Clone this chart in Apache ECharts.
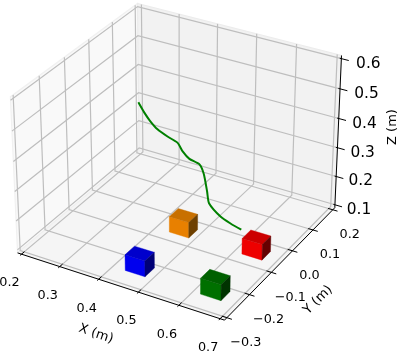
<!DOCTYPE html>
<html><head><meta charset="utf-8">
<style>html,body{margin:0;padding:0;background:#fff}#c{width:403px;height:356px}</style>
<script src="https://cdn.jsdelivr.net/npm/echarts@6/dist/echarts.min.js"></script>
</head><body><div id="c"></div>
<script>
const xTicks = [0.2, 0.3, 0.4, 0.5, 0.6, 0.7];
const yTicks = [-0.3, -0.2, -0.1, 0.0, 0.1, 0.2];
const zTicks = [0.1, 0.2, 0.3, 0.4, 0.5, 0.6];
const xLabels = ['0.2','0.3','0.4','0.5','0.6','0.7'];
const yLabels = ['\u22120.3','\u22120.2','\u22120.1','0.0','0.1','0.2'];
const zLabels = ['0.1','0.2','0.3','0.4','0.5','0.6'];
const pathX = [0.2839,0.2990,0.3146,0.3338,0.3600,0.3864,0.3995,0.4171,0.4433,0.4546,0.4635,0.4687,0.5101,0.5429,0.5765];
const pathY = [0.054,0.054,0.054,0.054,0.054,0.054,0.054,0.054,0.054,0.054,0.054,0.054,0.0346,0.0206,0.0095];
const pathZ = [0.3985,0.3693,0.3452,0.3238,0.3086,0.2965,0.2718,0.2528,0.2436,0.2144,0.1567,0.1175,0.10,0.10,0.10];
const cubeX = [0.645,0.644,0.457,0.461];
const cubeY = [-0.0475,-0.231,-0.2325,-0.049];
const cubeZ = [0.09,0.09,0.09,0.09];
const cubeColors = [
  ['#ee0000','#cc0000','#660000'],
  ['#007000','#006000','#003300'],
  ['#0000ee','#0000cc','#000077'],
  ['#e88000','#c87000','#6e4000']
];
const CUBE_DX = 0.025, CUBE_DY = 0.02, CUBE_DZ = 0.027;

// matplotlib limits with its 1/48 margin
const pad = 0.5 / 48;
const xmin = 0.2 - pad, xmax = 0.7 + pad, ymin = -0.3 - pad, ymax = 0.2 + pad, zmin = 0.1 - pad, zmax = 0.6 + pad;
// view camera elev 30, azim -60, dist 10, box aspect 4:4:3
const BX = 1.1428, BZ = 0.8571;
function project(x, y, z) {
  const dx = ((x - xmin) / (xmax - xmin) - 0.5) * BX;
  const dy = ((y - ymin) / (ymax - ymin) - 0.5) * BX;
  const dz = ((z - zmin) / (zmax - zmin) - 0.5) * BZ;
  const u = 0.8660254 * dx + 0.5 * dy;
  const v = -0.25 * dx + 0.4330127 * dy + 0.8660254 * dz;
  const w = 0.4330127 * dx - 0.75 * dy + 0.5 * dz;
  const d = 10 - w;
  return [u / d, v / d];
}
const SCALE = 2075, CX = 179, CY = 154.5;

const lineStyle = (c, w) => ({ stroke: c, lineWidth: w, fill: null });
function poly(api, pts, style) {
  return { type: 'polyline', shape: { points: pts.map(p => api.coord(project(p[0], p[1], p[2]))) }, style };
}
function polygon(api, pts, style) {
  return { type: 'polygon', shape: { points: pts.map(p => api.coord(project(p[0], p[1], p[2]))) }, style };
}
function text(x, y, t, size, rot) {
  return { type: 'text', x, y, rotation: rot || 0, style: { text: t, x: 0, y: 0, textAlign: 'center', textVerticalAlign: 'middle',
    fontFamily: 'DejaVu Sans', fontSize: size, fill: '#000' } };
}

const panes = [
  { pts: [[xmin,ymin,zmin],[xmin,ymax,zmin],[xmin,ymax,zmax],[xmin,ymin,zmax]], fill: '#f9f9f9', edge: '#f1f1f1' },
  { pts: [[xmin,ymax,zmin],[xmax,ymax,zmin],[xmax,ymax,zmax],[xmin,ymax,zmax]], fill: '#f2f2f2', edge: '#ececec' },
  { pts: [[xmin,ymin,zmin],[xmax,ymin,zmin],[xmax,ymax,zmin],[xmin,ymax,zmin]], fill: '#f5f5f5', edge: '#f0f0f0' }
];
const GRID = '#bebebe';
const grids = []
  .concat(xTicks.map(t => [[t,ymin,zmin],[t,ymax,zmin],[t,ymax,zmax]]))
  .concat(yTicks.map(t => [[xmax,t,zmin],[xmin,t,zmin],[xmin,t,zmax]]))
  .concat(zTicks.map(t => [[xmin,ymin,t],[xmin,ymax,t],[xmax,ymax,t]]));
const axesLines = [
  [[xmin,ymin,zmin],[xmax,ymin,zmin]],
  [[xmax,ymin,zmin],[xmax,ymax,zmin]],
  [[xmax,ymax,zmin],[xmax,ymax,zmax]]
];
const tickMarks = []
  .concat(xTicks.map(t => [[t,ymin-0.006,zmin],[t,ymin+0.012,zmin]]))
  .concat(yTicks.map(t => [[xmax-0.012,t,zmin],[xmax+0.012,t,zmin]]))
  .concat(zTicks.map(t => [[xmax-0.004,ymax,t],[xmax+0.018,ymax,t]]));

function seriesOf(items, z, render) {
  return { type: 'custom', coordinateSystem: 'cartesian2d', clip: false, silent: true, z, animation: false,
    data: items.map((_, i) => [i]), encode: { x: 0, y: 0 }, renderItem: (p, api) => render(items[p.dataIndex], api, p.dataIndex) };
}

function cubeFaces(i) {
  const x0 = cubeX[i]-CUBE_DX, x1 = cubeX[i]+CUBE_DX, y0 = cubeY[i]-CUBE_DY, y1 = cubeY[i]+CUBE_DY, z0 = cubeZ[i], z1 = cubeZ[i]+2*CUBE_DZ;
  return [
    [[[x0,y0,z0],[x1,y0,z0],[x1,y0,z1],[x0,y0,z1]], cubeColors[i][0]],
    [[[x0,y0,z1],[x1,y0,z1],[x1,y1,z1],[x0,y1,z1]], cubeColors[i][1]],
    [[[x1,y0,z0],[x1,y1,z0],[x1,y1,z1],[x1,y0,z1]], cubeColors[i][2]]
  ];
}

const titles = [
  { t: 'X (m)', x: 96, y: 334, rot: -19 * Math.PI / 180 },
  { t: 'Y (m)', x: 318, y: 300, rot: 45 * Math.PI / 180 },
  { t: 'Z (m)', x: 393, y: 127, rot: 90 * Math.PI / 180 }
];

const chart = echarts.init(document.getElementById('c'), null, { renderer: 'canvas' });
chart.setOption({
  animation: false,
  backgroundColor: '#fff',
  grid: { left: 0, top: 0, width: 403, height: 356 },
  xAxis: { type: 'value', show: false, min: -CX / SCALE, max: (403 - CX) / SCALE },
  yAxis: { type: 'value', show: false, min: (CY - 356) / SCALE, max: CY / SCALE },
  series: [
    seriesOf(panes, 1, (p, api) => polygon(api, p.pts, { fill: p.fill, stroke: p.edge, lineWidth: 1.2 })),
    seriesOf(grids, 2, (g, api) => poly(api, g, lineStyle(GRID, 1.2))),
    seriesOf(axesLines, 3, (g, api) => poly(api, g, lineStyle('#000', 1))),
    seriesOf(tickMarks, 3, (g, api) => poly(api, g, lineStyle('#000', 1))),
    seriesOf(cubeX, 4, (_, api, i) => ({ type: 'group', children: cubeFaces(i).map(f => polygon(api, f[0], { fill: f[1], stroke: f[1], lineWidth: 0.4 })) })),
    seriesOf(pathX, 5, (_, api, i) => {
      if (i !== 0) return { type: 'group', children: [] };
      return { type: 'polyline', shape: { smooth: 0.2, points: pathX.map((x, k) => api.coord(project(x, pathY[k], pathZ[k]))) },
        style: { stroke: '#008000', lineWidth: 2, fill: null } };
    }),
    seriesOf(xTicks, 6, (t, api, i) => { const c = api.coord(project(t, ymin, zmin)); return text(c[0] - 12, c[1] + 29, xLabels[i], 12.8); }),
    seriesOf(yTicks, 6, (t, api, i) => { const c = api.coord(project(xmax, t, zmin)); return text(c[0] + 17 + (i < 3 ? 2 : 0), c[1] + 25, yLabels[i], 12.8); }),
    seriesOf(zTicks, 6, (t, api, i) => { const c = api.coord(project(xmax, ymax, t)); return text(c[0] + 24 + 0.6 * i, c[1] + 5, zLabels[i], 15.4); }),
    seriesOf(titles, 6, (t) => text(t.x, t.y, t.t, 13, t.rot))
  ]
});
</script></body></html>
